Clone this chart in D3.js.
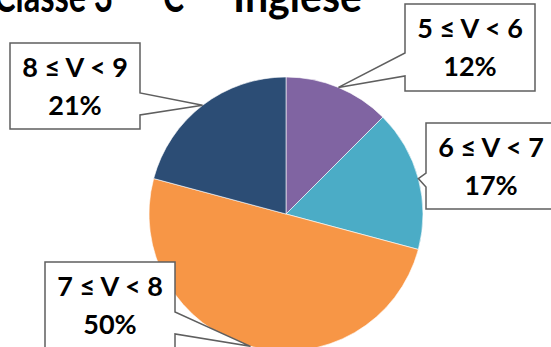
<!DOCTYPE html>
<html>
<head>
<meta charset="utf-8">
<script src="https://cdn.jsdelivr.net/npm/d3@7"></script>
<style>
  html, body { margin: 0; padding: 0; background: #fff; }
  svg { display: block; }
  text { font-family: Lato, "Open Sans", sans-serif; font-weight: bold; fill: #000; }
</style>
</head>
<body>
<svg id="chart" width="551" height="347"></svg>
<script>
// ---- data ----
const categories = ["5 \u2264 V < 6", "6 \u2264 V < 7", "7 \u2264 V < 8", "8 \u2264 V < 9"];
const counts = [3, 4, 12, 5];
const percentLabels = ["12%", "17%", "50%", "21%"];
const colors = ["#8064A2", "#4BACC6", "#F79646", "#2C4D75"];
const titleParts = ["Classe 3", "\u00AA", "C", "\u2013", "Inglese"];

// ---- layout ----
const W = 551, H = 347;
const cx = 286, cy = 214, R = 137;
const boxes = [
  {x: 405, y: 4,   w: 130, h: 87, side: "left",  p0: 53,  p1: 76},
  {x: 426, y: 123, w: 130, h: 86, side: "left",  p0: 173, p1: 187},
  {x: 45,  y: 262, w: 130, h: 90, side: "right", p0: 312, p1: 334},
  {x: 10,  y: 43,  w: 130, h: 86, side: "right", p0: 93,  p1: 115}
];
// title pieces: x, baseline y, fitted width
const titleLayout = [
  {x: -6, y: 12, len: 119},
  {x: 122, y: 12, len: null},
  {x: 163, y: 12, len: 21},
  {x: 200, y: 5, len: null},
  {x: 233, y: 12, len: 129}
];

const svg = d3.select("#chart");

// title (cut off at the top, as in the reference)
const tg = svg.append("g").attr("font-size", 43);
titleParts.forEach((s, i) => {
  const L = titleLayout[i];
  const t = tg.append("text").attr("x", L.x).attr("y", L.y).text(s);
  if (L.len) t.attr("textLength", L.len).attr("lengthAdjust", "spacingAndGlyphs");
});

const pie = d3.pie().sort(null).value(d => d);
const arcs = pie(counts);
const arc = d3.arc().innerRadius(0).outerRadius(R);

const g = svg.append("g").attr("transform", `translate(${cx},${cy})`);
g.selectAll("path").data(arcs).enter().append("path")
  .attr("d", arc)
  .attr("fill", (d, i) => colors[i])
  .attr("stroke", "#ffffff")
  .attr("stroke-width", 0.6);

// callouts
arcs.forEach((a, i) => {
  const b = boxes[i];
  const mid = (a.startAngle + a.endAngle) / 2;
  const tx = cx + R * Math.sin(mid), ty = cy - R * Math.cos(mid);
  const x0 = b.x, x1 = b.x + b.w, y0 = b.y, y1 = b.y + b.h;
  let p;
  if (b.side === "left") {
    p = `M${x0},${y0} L${x1},${y0} L${x1},${y1} L${x0},${y1} L${x0},${b.p1} L${tx},${ty} L${x0},${b.p0} Z`;
  } else {
    p = `M${x0},${y0} L${x1},${y0} L${x1},${b.p0} L${tx},${ty} L${x1},${b.p1} L${x1},${y1} L${x0},${y1} Z`;
  }
  svg.append("path").attr("d", p)
    .attr("fill", "#fff").attr("stroke", "#5f5f5f").attr("stroke-width", 1.5)
    .attr("stroke-linejoin", "miter");
  const mx = b.x + b.w / 2;
  svg.append("text").attr("x", mx).attr("y", b.y + 34)
    .attr("text-anchor", "middle").attr("font-size", 27)
    .text(categories[i]);
  svg.append("text").attr("x", mx).attr("y", b.y + 72)
    .attr("text-anchor", "middle").attr("font-size", 27)
    .text(percentLabels[i]);
});
</script>
</body>
</html>
